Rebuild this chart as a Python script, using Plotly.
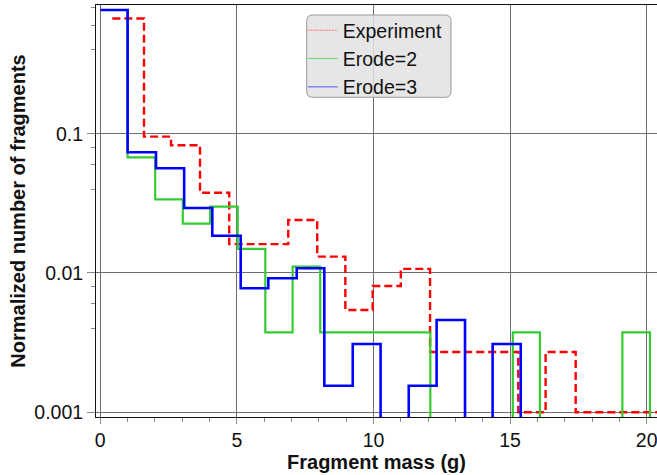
import numpy as np
import plotly.graph_objects as go

# ---- data ----
red_edges = [0.44, 1.60, 2.59, 3.65, 4.72, 5.80, 6.88, 7.94, 8.97, 9.97, 11.00,
             12.07, 13.15, 14.22, 15.30, 16.30, 17.40, 18.45, 19.50, 20.55]
red_values = [0.672, 0.0952, 0.0826, 0.0377, 0.0161, 0.0161, 0.0240, 0.0131,
              0.00542, 0.00807, 0.0107, 0.00271, 0.00271, 0.00271, 0.001,
              0.00271, 0.001, 0.001, 0.001]

green_edges = [0, 1.00, 2.01, 3.02, 4.02, 5.03, 6.04, 7.04, 8.05, 9.05, 10.06,
               11.07, 12.08, 13.08, 14.09, 15.10, 16.09, 17.10, 18.11, 19.11, 20.12]
green_values = [0.773, 0.0677, 0.0338, 0.0226, 0.0299, 0.0149, 0.00375, 0.0111,
                0.00375, 0.00375, 0.00375, 0.00375, 0, 0, 0, 0.00375, 0, 0, 0,
                0.00375]

blue_edges = [0, 1.00, 2.04, 3.07, 4.10, 5.14, 6.15, 7.19, 8.20, 9.24, 10.26,
              11.29, 12.31, 13.35, 14.36, 15.39]
blue_values = [0.773, 0.0735, 0.0565, 0.0293, 0.0185, 0.00776, 0.00916, 0.0108,
               0.00155, 0.00309, 0, 0.00155, 0.0046, 0, 0.00309]

series_names = ["Experiment", "Erode=2", "Erode=3"]
x_ticks = [0, 5, 10, 15, 20]
y_ticks = [0.001, 0.01, 0.1]
y_ticktext = ["0.001", "0.01", "0.1"]
y_minor = [0.004, 0.006, 0.008, 0.04, 0.06, 0.08, 0.4, 0.6, 0.8]

FLOOR = 1e-6  # empty bins drawn below the axis (log scale)


def stairs(edges, values, tail):
    y = [v if v > 0 else FLOOR for v in list(values) + [tail]]
    return list(edges), y


FONT = "Liberation Sans"
fig = go.Figure()

rx, ry = stairs(red_edges, red_values, red_values[-1])
fig.add_trace(go.Scatter(x=rx, y=ry, mode="lines", line_shape="hv",
                         name=series_names[0], showlegend=False,
                         line=dict(color="#ff0000", width=2.4, dash="8px,4px")))
gx, gy = stairs(green_edges, green_values, 0)
fig.add_trace(go.Scatter(x=gx, y=gy, mode="lines", line_shape="hv",
                         name=series_names[1], showlegend=False,
                         line=dict(color="#33cc33", width=2.2)))
bx, by = stairs(blue_edges, blue_values, 0)
fig.add_trace(go.Scatter(x=bx, y=by, mode="lines", line_shape="hv",
                         name=series_names[2], showlegend=False,
                         line=dict(color="#0000ff", width=2.6)))

# legend entries (thin sample lines as in the reference)
legend_styles = [
    dict(color="#ff7070", width=1, dash="2px,1px"),
    dict(color="#66dd66", width=1),
    dict(color="#5555ff", width=1),
]
for name, st in zip(series_names, legend_styles):
    fig.add_trace(go.Scatter(x=[None], y=[None], mode="lines", name=name,
                             line=st, showlegend=True))

# rounded legend box (paper coordinates)
PW, PH = 561.0, 412.0
bx0, bx1 = (306.7 - 96) / PW, (451 - 96) / PW
by1, by0 = (417 - 15) / PH, (417 - 97.3) / PH
rx_, ry_ = 6 / PW, 6 / PH
path = (f"M{bx0+rx_},{by1} L{bx1-rx_},{by1} Q{bx1},{by1} {bx1},{by1-ry_} "
        f"L{bx1},{by0+ry_} Q{bx1},{by0} {bx1-rx_},{by0} "
        f"L{bx0+rx_},{by0} Q{bx0},{by0} {bx0},{by0+ry_} "
        f"L{bx0},{by1-ry_} Q{bx0},{by1} {bx0+rx_},{by1} Z")

grid = "#6e6e6e"
fig.update_layout(
    width=657, height=475,
    margin=dict(l=96, r=0, t=5, b=58, autoexpand=False),
    paper_bgcolor="white", plot_bgcolor="white",
    font=dict(family=FONT, size=19, color="#111111"),
    shapes=[dict(type="path", path=path, xref="paper", yref="paper",
                 fillcolor="rgba(226,226,226,0.85)",
                 line=dict(color="#9a9a9a", width=1), layer="above")],
    legend=dict(x=0.3685, y=0.9854, xanchor="left", yanchor="top",
                bgcolor="rgba(0,0,0,0)", borderwidth=0,
                font=dict(family=FONT, size=19.5, color="#111111"),
                tracegroupgap=0, itemwidth=30),
    xaxis=dict(
        range=[-0.157, 20.377], tickvals=x_ticks, automargin=False,
        ticklabeloverflow="allow",
        showgrid=True, gridcolor=grid, gridwidth=1,
        zeroline=True, zerolinecolor=grid, zerolinewidth=1,
        showline=True, mirror=True, linecolor="#111111", linewidth=1,
        ticks="outside", ticklen=6, tickcolor="#888888",
        minor=dict(dtick=1, ticks="outside", ticklen=4, tickcolor="#888888",
                   showgrid=False),
        tickfont=dict(family=FONT, size=19.5),
        title=dict(text="Fragment mass (g)", standoff=0,
                   font=dict(family=FONT, size=20, weight="bold")),
    ),
    yaxis=dict(
        type="log", range=[-3.034, -0.0761], automargin=False,
        tickvals=y_ticks, ticktext=y_ticktext,
        showgrid=True, gridcolor=grid, gridwidth=1,
        showline=True, mirror=False, linecolor="#111111", linewidth=1,
        ticks="outside", ticklen=8, tickcolor="#888888",
        minor=dict(tickvals=y_minor, ticks="outside", ticklen=4,
                   tickcolor="#888888", showgrid=False),
        tickfont=dict(family=FONT, size=19.5),
        title=dict(text="Normalized number of fragments", standoff=3,
                   font=dict(family=FONT, size=20, weight="bold")),
    ),
)

fig.write_html(
    "out.html",
    config={"displayModeBar": False},
    post_script="document.body.style.margin='0px';document.body.style.overflow='hidden';",
)
